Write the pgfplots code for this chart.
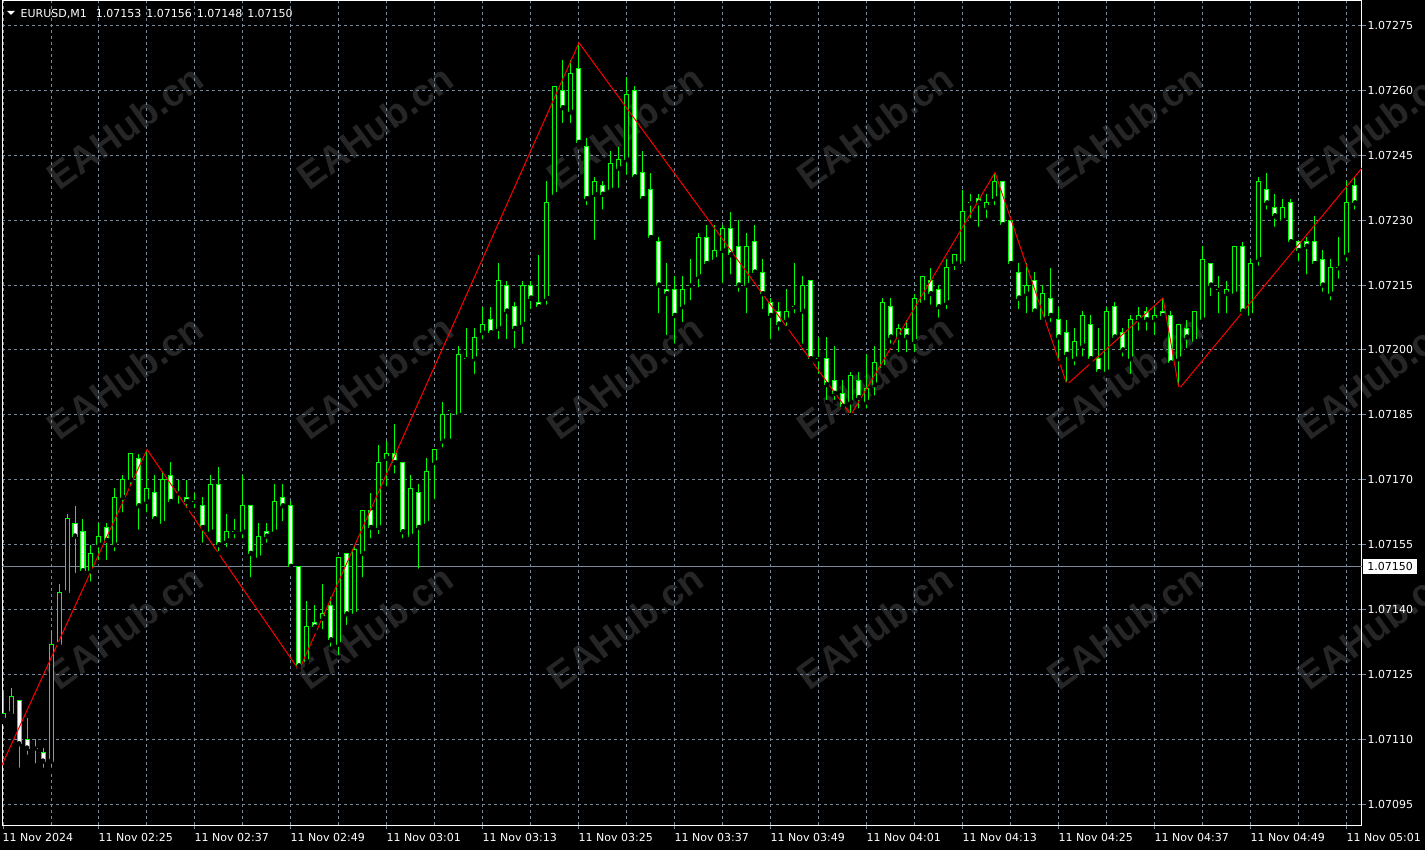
\documentclass[border=0pt]{standalone}
\usepackage{pgfplots}
\pgfplotsset{compat=1.18}
\usepackage{pgfplotstable}
\usepackage{fontspec}
\setmainfont{DejaVu Sans}
\newfontfamily\wmfont{Liberation Sans}
\definecolor{mtgreen}{RGB}{0,255,0}
\definecolor{gridc}{RGB}{119,136,153}
\definecolor{wmc}{RGB}{38,38,38}

% EURUSD M1 candles, k = bar index (0 = 11 Nov 02:13)
% prices in points above 1.07000 (1 point = 0.00001), e.g. 150 = 1.07150
\pgfplotstableread{
k o h l c
0 115 121 114 116
1 116 122 115 120
2 119 119 103 109
3 110 115 106 108
4 108 110 104 108
5 107 108 103 105
6 105 135 103 132
7 132 146 132 144
8 144 162 144 161
9 160 164 148 157
10 158 161 148 149
11 149 155 146 153
12 155 160 151 157
13 159 160 151 156
14 155 168 153 166
15 166 171 162 170
16 170 176 168 176
17 175 176 158 164
18 165 177 162 168
19 167 171 160 161
20 160 172 159 170
21 171 174 164 165
22 167 170 164 167
23 166 170 163 165
24 165 167 163 165
25 164 166 155 159
26 158 171 157 169
27 169 173 153 155
28 156 162 154 158
29 158 161 156 158
30 158 171 156 164
31 164 164 147 153
32 152 160 152 157
33 158 160 155 157
34 158 169 158 165
35 166 169 160 164
36 164 165 149 150
37 150 150 126 127
38 128 142 127 136
39 137 141 135 136
40 138 146 135 139
41 141 143 131 133
42 132 152 129 152
43 153 153 136 139
44 139 155 139 154
45 153 163 147 163
46 163 167 156 159
47 159 178 157 174
48 175 179 168 176
49 176 183 171 174
50 174 174 156 158
51 157 171 157 168
52 167 169 149 159
53 160 175 160 172
54 174 177 165 177
55 179 188 177 185
56 186 186 179 186
57 185 201 184 199
58 198 205 197 198
59 198 205 194 203
60 204 210 202 206
61 207 210 203 204
62 205 220 202 216
63 215 216 202 209
64 210 211 200 205
65 206 216 201 215
66 215 216 209 212
67 211 222 209 210
68 212 239 210 234
69 236 261 235 261
70 260 267 252 256
71 255 267 252 264
72 265 271 247 248
73 247 249 233 235
74 236 240 225 239
75 238 239 232 236
76 237 246 236 243
77 242 247 237 244
78 244 263 240 259
79 260 261 239 240
80 241 246 235 235
81 237 241 226 226
82 225 226 208 215
83 214 220 203 213
84 214 217 201 208
85 210 217 206 214
86 215 221 211 215
87 217 227 214 226
88 226 229 219 220
89 221 229 220 223
90 223 229 215 228
91 228 232 217 222
92 224 230 213 215
93 215 227 208 224
94 225 229 217 218
95 218 221 209 213
96 211 212 202 208
97 209 211 204 206
98 207 214 205 209
99 210 220 208 210
100 209 217 201 215
101 216 216 197 198
102 198 203 194 198
103 198 203 188 192
104 193 201 188 190
105 190 193 186 187
106 188 195 185 194
107 193 195 186 189
108 188 199 186 191
109 192 201 189 197
110 196 212 195 211
111 210 212 201 203
112 203 206 199 205
113 205 207 199 203
114 202 213 199 212
115 211 217 210 217
116 216 219 210 213
117 214 215 207 210
118 211 221 209 219
119 220 222 218 222
120 220 237 220 232
121 234 236 230 234
122 235 236 228 234
123 233 236 230 234
124 235 241 233 239
125 239 239 228 229
126 230 230 219 220
127 218 220 209 212
128 213 220 208 215
129 216 218 208 209
130 207 215 207 213
131 212 219 206 208
132 207 210 197 203
133 204 207 192 199
134 198 205 196 202
135 201 209 198 208
136 206 208 197 198
137 198 205 195 195
138 195 210 194 209
139 210 211 203 203
140 204 205 198 200
141 198 208 194 207
142 207 210 204 208
143 209 210 204 207
144 207 210 203 208
145 209 212 207 208
146 208 209 197 197
147 198 206 191 206
148 205 207 200 203
149 202 209 202 209
150 207 224 207 221
151 220 220 212 215
152 214 217 208 214
153 213 216 208 214
154 213 224 213 224
155 224 225 208 209
156 208 221 208 220
157 221 240 219 239
158 237 241 232 234
159 233 236 228 231
160 230 235 230 233
161 234 235 225 225
162 225 225 220 223
163 225 226 217 224
164 225 231 220 220
165 221 223 213 215
166 213 221 211 219
167 219 226 216 219
168 222 239 220 234
169 238 240 232 234
}\candles

\begin{document}
\begin{tikzpicture}
\fill[black] (-2pt,-24.5pt) rectangle (1423pt,825.5pt);
\useasboundingbox (-2pt,-24.5pt) rectangle (1423pt,825.5pt);
\foreach \i in {0,...,5}{\foreach \j in {0,1,2}{
  \node[rotate=36, text=wmc, inner sep=0pt, font=\wmfont\bfseries\fontsize{38}{40}\selectfont]
    at ({123pt+250pt*\i},{698.5pt-250pt*\j}) {EAHub.cn};
}}
\begin{axis}[
  at={(0pt,0pt)}, anchor=south west,
  scale only axis, width=1360pt, height=825pt,
  xmin=-0.125, xmax=169.875, ymin=90.11, ymax=280.77,
  axis line style={white, line width=1pt},
  xtick={0,12,...,168},
  xticklabels={11 Nov 2024, 11 Nov 02:25, 11 Nov 02:37, 11 Nov 02:49, 11 Nov 03:01, 11 Nov 03:13, 11 Nov 03:25, 11 Nov 03:37, 11 Nov 03:49, 11 Nov 04:01, 11 Nov 04:13, 11 Nov 04:25, 11 Nov 04:37, 11 Nov 04:49, 11 Nov 05:01},
  minor xtick={6,18,...,162},
  ytick={95,110,...,275},
  yticklabels={1.07095,1.07110,1.07125,1.07140,1.07155,1.07170,1.07185,1.07200,1.07215,1.07230,1.07245,1.07260,1.07275},
  xtick pos=bottom, ytick pos=right, yticklabel pos=right,
  tick align=outside, major tick length=4pt, minor tick length=0pt,
  tick style={gridc, line width=1pt},
  grid=both,
  major grid style={gridc, dash pattern=on 3pt off 3pt, line width=1pt},
  minor grid style={gridc, dash pattern=on 3pt off 3pt, line width=1pt},
  ticklabel style={font=\fontsize{11}{12}\selectfont, text=white, inner sep=0pt},
  xticklabel style={anchor=base west, yshift=-12.5pt, xshift=-0.5pt},
  yticklabel style={anchor=west, xshift=1.5pt},
]
% bid line
\addplot[gridc, line width=1pt, forget plot] coordinates {(-1,150) (171,150)};
% wicks
\addplot[only marks, mark=none, forget plot,
  error bars/.cd, y dir=plus, y explicit, error mark=none,
  error bar style={draw=mtgreen, line width=1pt}]
  table[x=k, y=l, y error plus expr=\thisrow{h}-\thisrow{l}] {\candles};
% body outlines
\addplot[only marks, mark=none, forget plot,
  error bars/.cd, y dir=plus, y explicit, error mark=none,
  error bar style={draw=mtgreen, line width=5pt}]
  table[x=k, y expr={min(\thisrow{o},\thisrow{c})-0.1156},
        y error plus expr={abs(\thisrow{c}-\thisrow{o})+0.2312}] {\candles};
% bull bodies (black fill)
\addplot[only marks, mark=none, forget plot, restrict y to domain=0:1000,
  error bars/.cd, y dir=plus, y explicit, error mark=none,
  error bar style={draw=black, line width=3pt}]
  table[x=k, y expr={(\thisrow{c}>\thisrow{o}) ? (\thisrow{o}+0.1156) : (-1000)},
        y error plus expr={\thisrow{c}-\thisrow{o}-0.2312}] {\candles};
% bear bodies (white fill)
\addplot[only marks, mark=none, forget plot, restrict y to domain=0:1000,
  error bars/.cd, y dir=plus, y explicit, error mark=none,
  error bar style={draw=white, line width=3pt}]
  table[x=k, y expr={(\thisrow{c}<\thisrow{o}) ? (\thisrow{c}+0.1156) : (-1000)},
        y error plus expr={\thisrow{o}-\thisrow{c}-0.2312}] {\candles};
% zigzag
\addplot[red, line width=1pt, forget plot] coordinates {
(-2,96.6) (18,177) (37,126) (72,271) (106,185) (124,241) (133,192) (145,212) (147,191) (172,246.8)};
\coordinate (cp) at (axis cs:169.875,150);
\end{axis}
\node[anchor=west, fill=white, text=black, inner xsep=4.5pt, inner ysep=3pt,
  font=\fontsize{11}{12}\selectfont] at ([xshift=0.7pt]cp) {1.07150\hspace{4.5pt}};
\fill[white] (5pt,814.5pt) -- (13pt,814.5pt) -- (9pt,810.5pt) -- cycle;
\node[anchor=base west, inner sep=0pt, text=white, font=\fontsize{11}{12}\selectfont]
  at (18.5pt,808.2pt) {EURUSD,M1\hspace{9pt}1.07153\hspace{5pt}1.07156\hspace{5pt}1.07148\hspace{5pt}1.07150};
\end{tikzpicture}
\end{document}
